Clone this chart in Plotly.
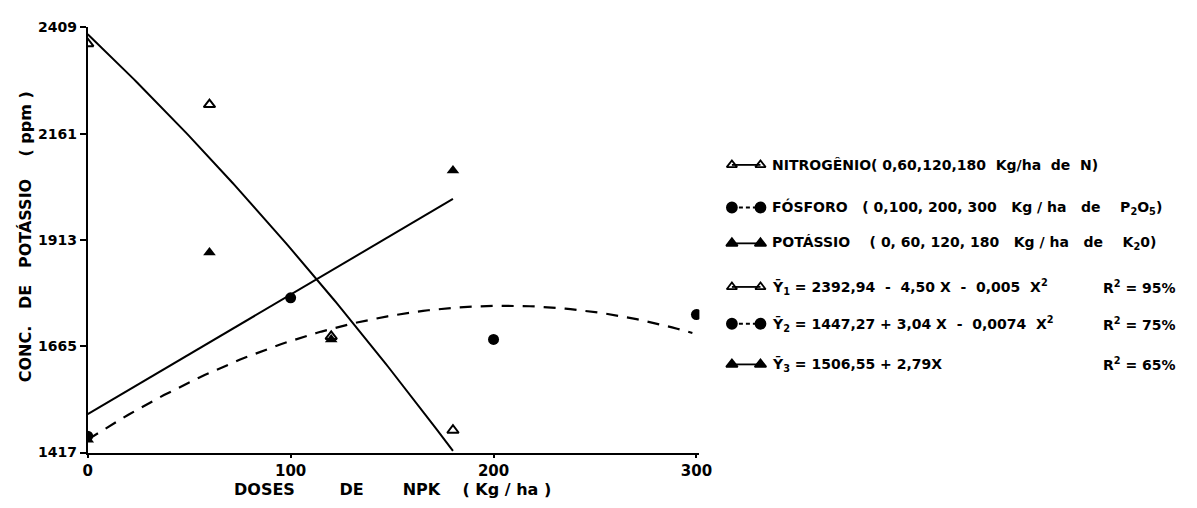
import numpy as np
import plotly.graph_objects as go

# Observed means (ppm of K) per dose
n_doses = [0, 60, 120, 180]
n_k = [2371, 2229, 1688, 1469]
p_doses = [0, 100, 200, 300]
p_k = [1455, 1778, 1681, 1739]
k_doses = [0, 60, 120, 180]
k_k = [1447, 1884, 1681, 2075]

# Fitted regression coefficients (a, b, c) for Y = a + bX + cX^2
n_coef = [2392.94, -4.50, -0.005]
p_coef = [1447.27, 3.04, -0.0074]
k_coef = [1506.55, 2.79, 0.0]

y_ticks = [1417, 1665, 1913, 2161, 2409]
x_ticks = [0, 100, 200, 300]

W, H = 1197, 508
FONT = "DejaVu Sans"


def fit(coef, x0, x1):
    x = np.linspace(x0, x1, 120)
    return x, coef[0] + coef[1] * x + coef[2] * x ** 2


fig = go.Figure()

line = dict(color="black", width=2)
xs, ys = fit(n_coef, 0, 180)
fig.add_trace(go.Scatter(x=xs, y=ys, mode="lines", line=line))
xs, ys = fit(p_coef, 0, 298)
fig.add_trace(go.Scatter(x=xs, y=ys, mode="lines", line=dict(color="black", width=2.2, dash="12px,9px")))
xs, ys = fit(k_coef, 0, 180)
fig.add_trace(go.Scatter(x=xs, y=ys, mode="lines", line=line))

fig.add_trace(go.Scatter(x=k_doses, y=k_k, mode="markers",
                         marker=dict(symbol="triangle-up", size=11, color="black")))
fig.add_trace(go.Scatter(x=p_doses, y=p_k, mode="markers",
                         marker=dict(symbol="circle", size=11, color="black")))
fig.add_trace(go.Scatter(x=n_doses, y=n_k, mode="markers",
                         marker=dict(symbol="triangle-up-open", size=10, color="black",
                                     line=dict(width=2, color="black"))))

# Key glyphs drawn on a pixel-based layer spanning the whole page
rows_y = [162, 206, 243, 288, 326, 368]
row_sym = ["triangle-up-open", "circle", "triangle-up", "triangle-up-open", "circle", "triangle-up"]
row_dash = ["solid", "4px,3px", "solid", "solid", "4px,3px", "solid"]
gx0, gx1 = 738, 767
for yy, sym, dsh in zip(rows_y, row_sym, row_dash):
    size = 9 if "open" in sym else 10
    fig.add_trace(go.Scatter(
        x=[gx0, gx1], y=[yy, yy], xaxis="x2", yaxis="y2", mode="lines+markers",
        line=dict(color="black", width=1.8, dash=dsh),
        marker=dict(symbol=sym, size=size, color="black", line=dict(width=1.8, color="black"))))

key_texts = [
    "NITROGÊNIO( 0,60,120,180  Kg/ha  de  N)",
    "FÓSFORO   ( 0,100, 200, 300   Kg / ha   de    P<sub>2</sub>O<sub>5</sub>)",
    "POTÁSSIO    ( 0, 60, 120, 180   Kg / ha   de    K<sub>2</sub>0)",
    "Ȳ<sub>1</sub> = 2392,94  -  4,50 X  -  0,005  X<sup>2</sup>",
    "Ȳ<sub>2</sub> = 1447,27 + 3,04 X  -  0,0074  X<sup>2</sup>",
    "Ȳ<sub>3</sub> = 1506,55 + 2,79X",
]
r2_texts = ["R<sup>2</sup> = 95%", "R<sup>2</sup> = 75%", "R<sup>2</sup> = 65%"]

ann = []
for yy, t in zip(rows_y, key_texts):
    ann.append(dict(x=777, y=yy, xref="x2", yref="y2", text=t, showarrow=False,
                    xanchor="left", yanchor="middle",
                    font=dict(family=FONT, size=14, color="black", weight="bold")))
for yy, t in zip(rows_y[3:], r2_texts):
    ann.append(dict(x=1113, y=yy, xref="x2", yref="y2", text=t, showarrow=False,
                    xanchor="left", yanchor="middle",
                    font=dict(family=FONT, size=14, color="black", weight="bold")))

ann.append(dict(x=21, y=236, xref="x2", yref="y2", textangle=-90,
                text="CONC.   DE   POTÁSSIO    ( ppm )", showarrow=False,
                font=dict(family=FONT, size=16, color="black", weight="bold")))
ann.append(dict(x=393, y=497, xref="x2", yref="y2",
                text="DOSES        DE       NPK    ( Kg / ha )", showarrow=False,
                font=dict(family=FONT, size=16, color="black", weight="bold")))

x_l, x_r = 84, 705
y_t, y_b = 20, 459
x_per = (702 - 84) / 300.0

fig.update_layout(
    width=W, height=H,
    margin=dict(l=0, r=0, t=0, b=0),
    paper_bgcolor="white", plot_bgcolor="rgba(0,0,0,0)",
    showlegend=False,
    annotations=ann,
    xaxis=dict(domain=[x_l / W, x_r / W], range=[0, (x_r - x_l) / x_per],
               tickvals=x_ticks, ticktext=[str(v) for v in x_ticks],
               showgrid=False, zeroline=False, showline=True, linecolor="black", linewidth=2,
               ticks="outside", ticklen=3, tickwidth=2, tickcolor="black",
               tickfont=dict(family=FONT, size=15, color="black", weight="bold")),
    yaxis=dict(domain=[1 - y_b / H, 1 - y_t / H], range=[1417, 2409],
               tickvals=y_ticks, ticktext=[str(v) for v in y_ticks],
               showgrid=False, zeroline=False, showline=True, linecolor="black", linewidth=2,
               ticks="outside", ticklen=6, tickwidth=2, tickcolor="black",
               tickfont=dict(family=FONT, size=14, color="black", weight="bold")),
    xaxis2=dict(domain=[0, 1], range=[0, W], visible=False, anchor="y2"),
    yaxis2=dict(domain=[0, 1], range=[H, 0], visible=False, anchor="x2"),
)

fig.write_html("out.html")
